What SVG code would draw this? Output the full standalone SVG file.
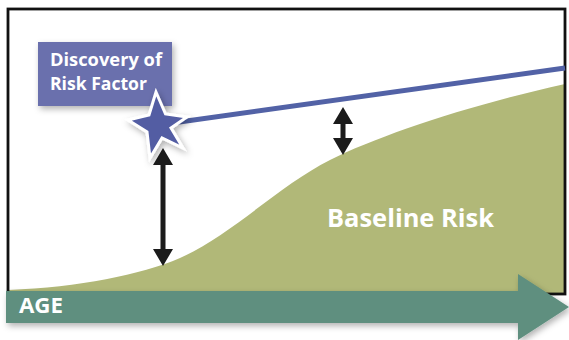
<svg xmlns="http://www.w3.org/2000/svg" width="569" height="340" viewBox="0 0 569 340">
<defs>
<filter id="sh" x="-20%" y="-20%" width="150%" height="160%">
<feDropShadow dx="2" dy="3" stdDeviation="3" flood-color="#000" flood-opacity="0.3"/>
</filter>
<style>
.lbl{font-family:"Open Sans","Liberation Sans",sans-serif;font-weight:bold;fill:#fff}
.dbl{fill:#1b1b1b}
</style>
</defs>
<rect x="0" y="0" width="569" height="340" fill="#fff"/>
<g id="area">
<path d="M8,290 C80,287 140,275 180,258 C230,236 280,185 330,160 C380,135 470,105 565,84 L565,294 L8,294 Z" fill="#b1b878"/>
<rect x="8" y="9" width="557" height="285" fill="none" stroke="#111" stroke-width="2.8"/>
<text class="lbl" x="327" y="227" font-size="25" textLength="167" lengthAdjust="spacingAndGlyphs">Baseline Risk</text>
</g>
<g id="connectors">
<line x1="158" y1="125" x2="565" y2="68" stroke="#5262a6" stroke-width="5"/>
<polygon class="dbl" points="163,148 173,165 165.5,165 165.5,249 173,249 163,266 153,249 160.5,249 160.5,165 153,165"/>
<polygon class="dbl" points="343,107 353,124 345.5,124 345.5,138 353,138 343,155 333,138 340.5,138 340.5,124 333,124"/>
</g>
<g id="age-axis">
<polygon points="6,291 518,291 518,274 569,307 518,340 518,323 6,323" fill="#5f8f7f" filter="url(#sh)"/>
<text class="lbl" x="19" y="313" font-size="21" textLength="44" lengthAdjust="spacingAndGlyphs">AGE</text>
</g>
<g id="discovery">
<rect x="38" y="42" width="134" height="64" fill="#6a6fad" filter="url(#sh)"/>
<text class="lbl" x="50" y="66" font-size="18.5" textLength="112" lengthAdjust="spacingAndGlyphs">Discovery of</text>
<text class="lbl" x="50" y="90" font-size="18.5" textLength="97" lengthAdjust="spacingAndGlyphs">Risk Factor</text>
<polygon points="156,92 165.5,114 187,117 171,128 183,148 162,138 150,158 147,132 128,120 149,115" fill="#525da3" stroke="#fff" stroke-width="3" stroke-linejoin="miter" filter="url(#sh)"/>
</g>
</svg>
